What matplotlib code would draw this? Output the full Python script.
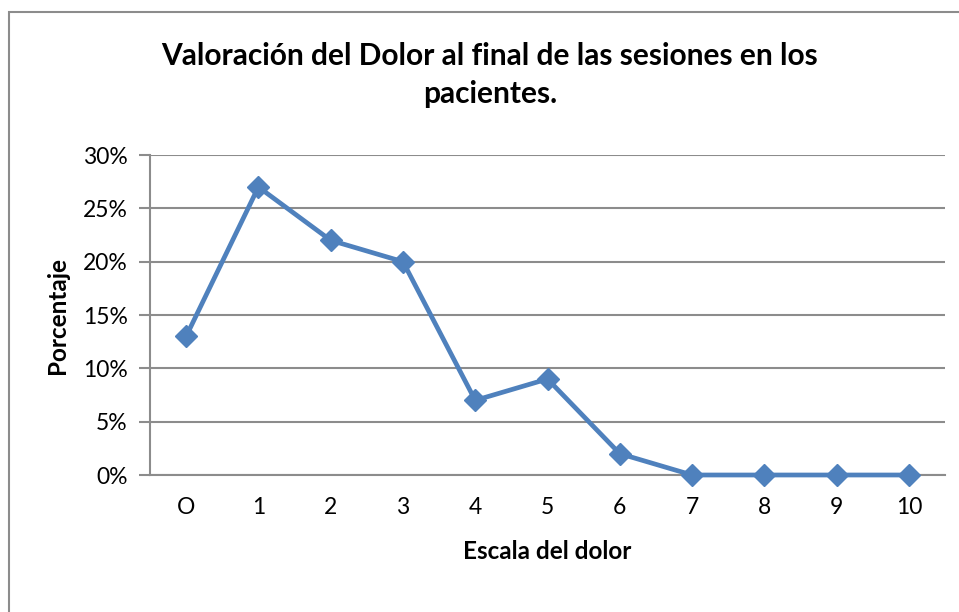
import matplotlib
matplotlib.use("Agg")
import matplotlib.pyplot as plt
from matplotlib.patches import Rectangle
from matplotlib.ticker import FuncFormatter, MultipleLocator

categories = ["O", "1", "2", "3", "4", "5", "6", "7", "8", "9", "10"]
values = [13, 27, 22, 20, 7, 9, 2, 0, 0, 0, 0]

plt.rcParams['font.family'] = ['Lato', 'DejaVu Sans']

fig = plt.figure(figsize=(9.59, 6.12), dpi=100)
ax = fig.add_axes([150/959, 1-475/612, (945-150)/959, (475-155)/612])

x = list(range(len(categories)))
ax.plot(x, values, color='#4F81BD', lw=3.4, marker='D', markersize=11,
        markerfacecolor='#4F81BD', markeredgecolor='#4F81BD', zorder=3, clip_on=False)

ax.set_xlim(-0.5, len(categories) - 0.5)
ax.set_ylim(0, 30)
ax.yaxis.set_major_locator(MultipleLocator(5))
ax.yaxis.set_major_formatter(FuncFormatter(lambda v, p: f"{int(round(v))}%"))
ax.set_xticks(x)
ax.set_xticklabels(categories)

for s in ['top', 'right']:
    ax.spines[s].set_visible(False)
for s in ['left', 'bottom']:
    ax.spines[s].set_color('#8C8C8C')
    ax.spines[s].set_linewidth(1.5)
ax.grid(axis='y', color='#8C8C8C', lw=1.5)
ax.set_axisbelow(True)
ax.tick_params(axis='y', length=8, width=1.5, color='#8C8C8C', labelsize=16.5, pad=8)
ax.tick_params(axis='x', length=0, labelsize=16.5, pad=16)

ax.set_xlabel("Escala del dolor", fontsize=17.5, fontweight='bold', labelpad=16)
ax.set_ylabel("Porcentaje", fontsize=17.5, fontweight='bold', labelpad=10)

fig.text(490/959, 1-75/612, "Valoración del Dolor al final de las sesiones en los\npacientes.",
         ha='center', va='center', fontsize=21.5, fontweight='bold', linespacing=1.45)

fig.patches.append(Rectangle((9/959, -0.1), 1.2, 1-12/612+0.1, transform=fig.transFigure,
                             fill=False, edgecolor='#8C8C8C', lw=1.5))

fig.savefig("out.png", dpi=100)
